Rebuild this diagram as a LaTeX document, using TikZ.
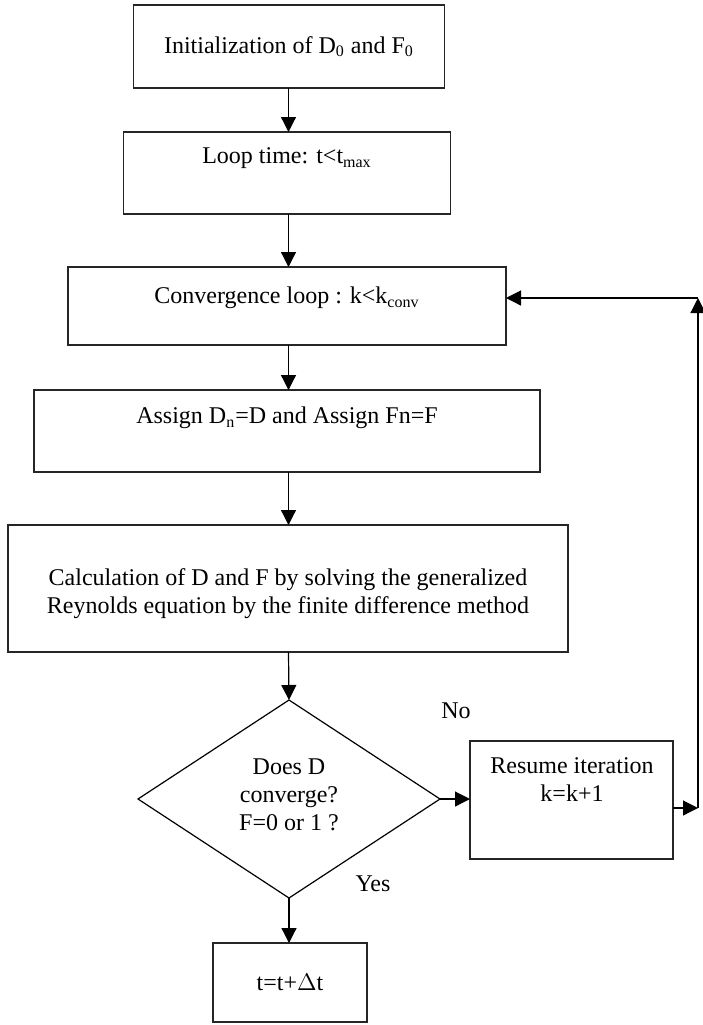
\documentclass[tikz,border=0pt]{standalone}
\usepackage{fontspec}
\setmainfont{Liberation Serif}
\usetikzlibrary{shapes.geometric,arrows.meta}
\begin{document}
\begin{tikzpicture}[x=0.5pt,y=-0.5pt,
  box/.style={draw=black!85,line width=0.6pt,rectangle,inner sep=0pt,outer sep=0pt},
  lbl/.style={font=\fontsize{12}{14}\selectfont,inner sep=0pt,align=center},
  arr/.style={draw=black,line width=0.6pt,-{Triangle[length=7.5pt,width=7.5pt]}},
  plain/.style={draw=black,line width=0.6pt}]
\useasboundingbox (0,0) rectangle (703,1025);
% boxes
\node[box,minimum width=155.5pt,minimum height=41.5pt] (b1) at (289,46.5) {};
\node[lbl] (t1) at (b1.center) {Initialization of D\textsubscript{0} and F\textsubscript{0}};
\node[box,minimum width=163.5pt,minimum height=41pt] (b2) at (287,173) {};
\node[lbl] (t2) at (287,158) {Loop time: t<t\textsubscript{max}};
\node[box,minimum width=219pt,minimum height=39pt] (b3) at (287,306) {};
\node[lbl] (t3) at (287,298) {Convergence loop : k<k\textsubscript{conv}};
\node[box,minimum width=253pt,minimum height=41pt] (b4) at (287,431) {};
\node[lbl] (t4) at (287,418) {Assign D\textsubscript{n}=D and Assign Fn=F};
\node[box,minimum width=280pt,minimum height=63.5pt] (b5) at (288,588.5) {};
\node[lbl] (t5) at (288,594) {Calculation of D and F by solving the generalized\\Reynolds equation by the finite difference method};
\node[draw=black,line width=0.6pt,diamond,aspect=1.525,inner sep=0pt,outer sep=0pt,
  minimum width=151pt,minimum height=99pt] (dm) at (289,799) {};
\node[lbl] (td) at (289,795) {Does D\\converge?\\F=0 or 1 ?};
\node[box,minimum width=101.5pt,minimum height=59pt] (rs) at (571.5,800) {};
\node[lbl] (tr) at (572,780) {Resume iteration\\k=k+1};
\node[box,minimum width=77pt,minimum height=39.5pt] (b6) at (290,982.5) {};
\node[lbl] (t6) at (b6.center) {t=t+$\Delta$t};
% labels
\node[lbl] (no) at (456,711) {No};
\node[lbl] (yes) at (373,884) {Yes};
% connectors
\coordinate (a1) at (288.5,0);
\draw[arr] (b1.south -| a1) -- (b2.north -| a1);
\draw[arr] (b2.south -| a1) -- (b3.north -| a1);
\draw[arr] (b3.south -| a1) -- (b4.north -| a1);
\draw[arr] (b4.south -| a1) -- (b5.north -| a1);
\draw[arr] (b5.south -| a1) -- (dm.north);
\draw[arr] (dm.south) -- (b6.north -| dm.south);
\draw[arr] (dm.east) -- (rs.west |- dm.east);
\coordinate (c1) at (698,808);
\coordinate (c2) at (698,298);
\draw[arr] (rs.east |- c1) -- (c1);
\draw[arr] (c1) -- (c2);
\draw[arr] (c2) -- (b3.east |- c2);
\end{tikzpicture}
\end{document}
